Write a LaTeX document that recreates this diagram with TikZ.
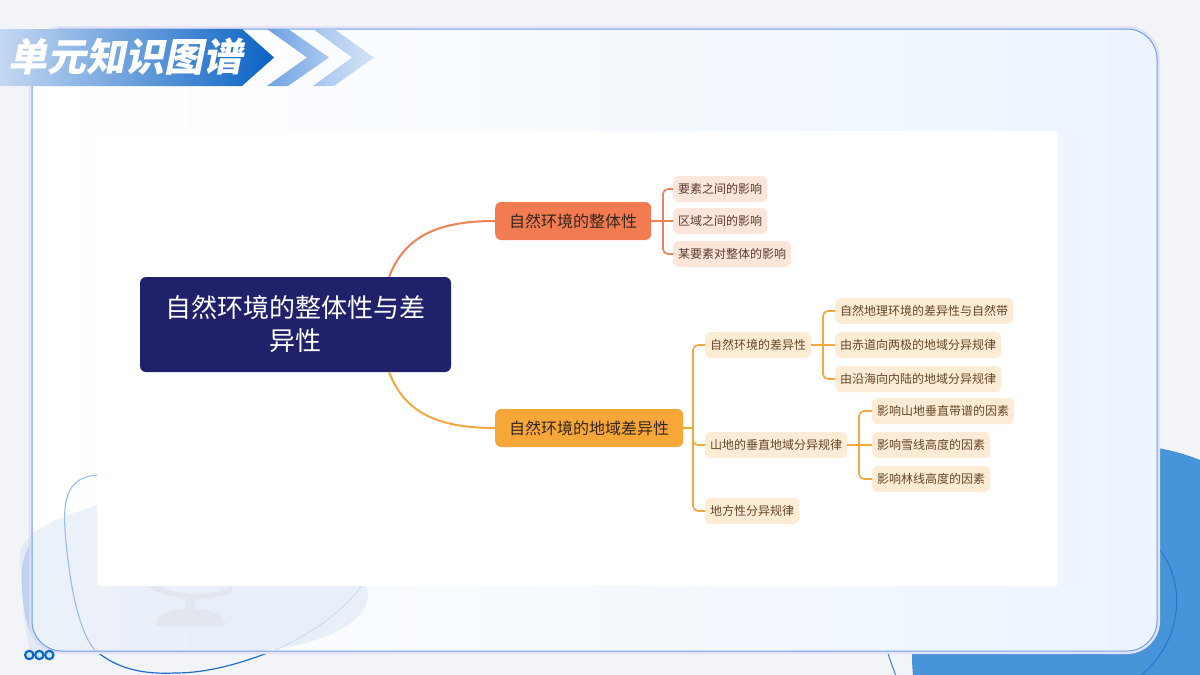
\documentclass[tikz,border=0pt]{standalone}
\usepackage{fontspec}
\setmainfont{Noto Sans CJK SC}
\newfontfamily\titlefont[FakeSlant=0.2]{Noto Sans CJK SC}
\usetikzlibrary{calc}
\definecolor{bgc}{HTML}{F3F4F8}
\definecolor{bluec}{HTML}{4894D8}
\definecolor{rootc}{HTML}{1F226A}
\definecolor{orgA}{HTML}{F27B51}
\definecolor{orgB}{HTML}{F7A738}
\definecolor{lineA}{HTML}{EE8157}
\definecolor{lineB}{HTML}{F4A83E}
\definecolor{pinkc}{HTML}{FCE5DA}
\definecolor{peachc}{HTML}{FDECD5}
\definecolor{txtd}{HTML}{33261F}
\definecolor{txta}{HTML}{5A3C2E}
\definecolor{txtb}{HTML}{664628}
\definecolor{panelb}{HTML}{6F9DE8}
\definecolor{bnl}{HTML}{C4D8F2}
\definecolor{bnm}{HTML}{2E7AD3}
\definecolor{bnr}{HTML}{0A62C4}
\definecolor{globec}{HTML}{E2E6ED}
\begin{document}
\begin{tikzpicture}[x=1pt,y=-1pt,
  rootbox/.style={fill=rootc, text=white, rounded corners=6pt, minimum width=311pt, minimum height=95pt, align=center, font=\fontsize{26}{33}\selectfont, inner sep=0pt},
  brA/.style={fill=orgA, rounded corners=6pt, minimum height=38pt, inner xsep=14pt, inner ysep=0pt, font=\fontsize{16}{18}\selectfont, text=txtd, anchor=west},
  brB/.style={brA, fill=orgB},
  leafA/.style={fill=pinkc, rounded corners=6pt, minimum height=26pt, inner xsep=5pt, inner ysep=0pt, font=\fontsize{12}{14}\selectfont, text=txta, anchor=west},
  leafB/.style={leafA, fill=peachc, text=txtb},
  conA/.style={draw=lineA, line width=1.6pt, rounded corners=5pt},
  conB/.style={draw=lineB, line width=1.6pt, rounded corners=5pt},
  panelpath/.style={rounded corners=30pt}
]
\useasboundingbox (0,0) rectangle (1200,675);
\begin{scope}
\clip (0,0) rectangle (1200,675);
\fill[bgc] (0,0) rectangle (1200,675);
% big blue blob bottom right
\fill[bluec] (1122,655) circle (210pt);
\draw[color={rgb,255:red,30;green,120;blue,208}, line width=1pt] (1150,540) .. controls (1188,572) and (1186,640) .. (1140,676);
\draw[color={rgb,255:red,60;green,130;blue,210}, line width=1pt] (884,640) .. controls (888,655) and (892,665) .. (896,676);
% bottom left light blob (saturated part)
\shade[left color={rgb,255:red,184;green,205;blue,238}, right color={rgb,255:red,238;green,242;blue,250}]
  (22,590) .. controls (18,540) and (40,525) .. (97,505) .. controls (200,470) and (330,470) .. (360,560)
  .. controls (375,620) and (320,652) .. (200,652) -- (60,652) .. controls (30,652) and (24,620) .. (22,590) -- cycle;
% outline curve bottom left (outside part)
\draw[color={rgb,255:red,30;green,110;blue,205}, line width=1.2pt] (95,650) .. controls (120,672) and (150,674) .. (175,673) .. controls (210,673) and (245,662) .. (275,650);
% panel glow
\draw[color={rgb,255:red,228;green,226;blue,247}, line width=6pt, panelpath] (32,29) rectangle (1157,651);
% panel
\shade[panelpath, left color=white, right color={rgb,255:red,236;green,244;blue,254}] (32,29) rectangle (1157,651);
% blob seen through panel
\fill[panelpath, color={rgb,255:red,200;green,215;blue,240}, opacity=0.35]
  (22,590) .. controls (18,540) and (40,525) .. (97,505) .. controls (200,470) and (330,470) .. (360,560)
  .. controls (375,620) and (320,652) .. (200,652) -- (60,652) .. controls (30,652) and (24,620) .. (22,590) -- cycle;
% outline curve inside panel
\draw[color={rgb,255:red,150;green,190;blue,235}, line width=1.1pt] (97,475) .. controls (60,478) and (62,510) .. (68,560) .. controls (74,610) and (85,640) .. (95,650);
\draw[color={rgb,255:red,205;green,222;blue,245}, line width=1pt] (275,650) .. controls (310,635) and (345,610) .. (362,585);
\draw[panelb, line width=1pt, panelpath] (32,29) rectangle (1157,651);
% globe icon
\draw[globec, line width=5pt, line cap=round] (150,584) .. controls (165,598) and (212,600) .. (230,590);
\fill[globec] (185,596) rectangle (195,612);
\fill[globec, rounded corners=3pt] (155,626) .. controls (158,612) and (175,609) .. (190,609) .. controls (205,609) and (222,612) .. (226,626) -- cycle;
% white map area
\fill[white] (97,131) rectangle (1058,586);
% three dots
\foreach \cx in {29.3,39.3,49.3}
  \draw[color={rgb,255:red,16;green,104;blue,200}, fill={rgb,255:red,205;green,235;blue,239}, line width=2.2pt] (\cx,655) circle (4.2pt);
% header banner
\shade[left color=bnl, middle color=bnm, right color=bnr] (0,29) -- (242,29) -- (274,57.5) -- (242,86) -- (0,86) -- cycle;
\shade[left color={rgb,255:red,110;green,162;blue,226}, right color={rgb,255:red,170;green,201;blue,239}] (267,29) -- (288,29) -- (329,57.5) -- (288,86) -- (267,86) -- (307,57.5) -- cycle;
\shade[left color={rgb,255:red,163;green,196;blue,238}, right color={rgb,255:red,214;green,228;blue,246}] (313,29) -- (334,29) -- (374,57.5) -- (334,86) -- (313,86) -- (352,57.5) -- cycle;
\end{scope}
\node[font=\titlefont\bfseries\fontsize{39}{42}\selectfont, text=white, anchor=west, inner sep=0pt] (title) at (8,57) {单元知识图谱};

% ---------- mind map ----------
\node[rootbox] (root) at (295.5,324.5) {自然环境的整体性与差\\异性};
\node[brA] (b1) at (495,221) {自然环境的整体性};
\node[brB] (b2) at (495,428) {自然环境的地域差异性};

\node[leafA] (l11) at (673,189) {要素之间的影响};
\node[leafA] (l12) at (673,221) {区域之间的影响};
\node[leafA] (l13) at (673,254) {某要素对整体的影响};

\node[leafB] (s1) at (705,345) {自然环境的差异性};
\node[leafB] (s2) at (705,445) {山地的垂直地域分异规律};
\node[leafB] (s3) at (705,511) {地方性分异规律};

\node[leafB] (t11) at (835,311) {自然地理环境的差异性与自然带};
\node[leafB] (t12) at (835,345) {由赤道向两极的地域分异规律};
\node[leafB] (t13) at (835,379) {由沿海向内陆的地域分异规律};

\node[leafB] (t21) at (872,411) {影响山地垂直带谱的因素};
\node[leafB] (t22) at (872,445) {影响雪线高度的因素};
\node[leafB] (t23) at (872,479) {影响林线高度的因素};

\coordinate (j1) at (663,221);
\coordinate (j2) at (693,428);
\coordinate (j3) at (823,345);
\coordinate (j4) at (859,445);

% root curves
\draw[lineA, line width=2pt] (root.27) .. controls (405,235) and (440,221) .. (b1.west);
\draw[lineB, line width=2pt] (root.-27) .. controls (405,414) and (440,428) .. (b2.west);

\draw[conA] (b1.east) -- (j1);
\draw[conA] (j1) |- (l11.west);
\draw[conA] (j1) -- (l12.west);
\draw[conA] (j1) |- (l13.west);

\draw[conB] (b2.east) -- (j2);
\draw[conB] (j2) |- (s1.west);
\draw[conB] (j2) |- (s2.west);
\draw[conB] (j2) |- (s3.west);

\draw[conB] (s1.east) -- (j3);
\draw[conB] (j3) |- (t11.west);
\draw[conB] (j3) -- (t12.west);
\draw[conB] (j3) |- (t13.west);

\draw[conB] (s2.east) -- (j4);
\draw[conB] (j4) |- (t21.west);
\draw[conB] (j4) -- (t22.west);
\draw[conB] (j4) |- (t23.west);
\end{tikzpicture}
\end{document}
